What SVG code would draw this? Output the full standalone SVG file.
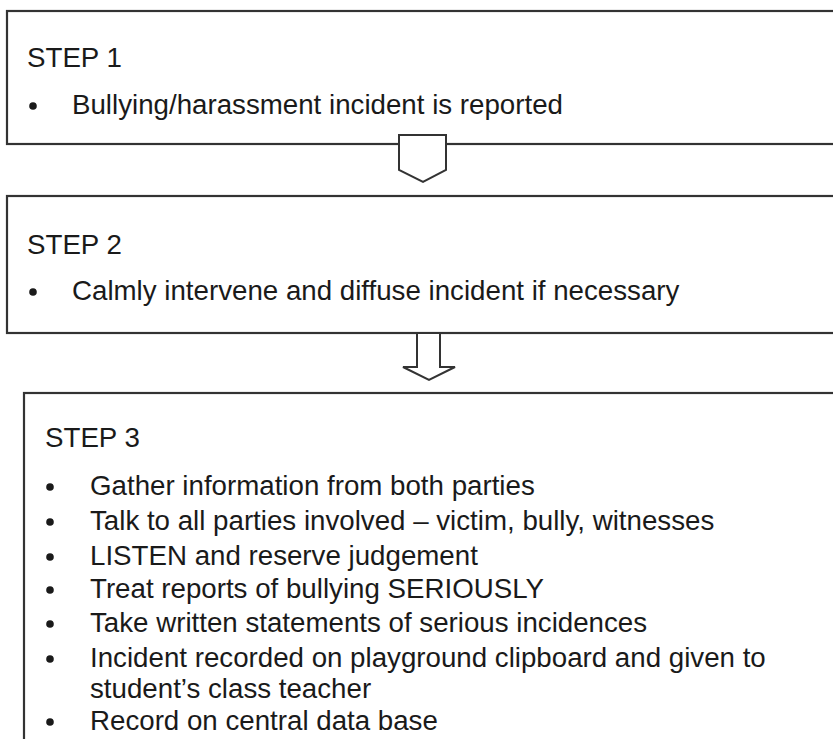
<svg xmlns="http://www.w3.org/2000/svg" width="833" height="739" viewBox="0 0 833 739">
<style>
.box{fill:#fff;stroke:#333;stroke-width:2.2}
.arrow{fill:#fff;stroke:#333;stroke-width:2;stroke-linejoin:miter}
text{font-family:"Liberation Sans",Arial,sans-serif;font-size:27.7px;fill:#1a1a1a}
.dot{fill:#1a1a1a}
</style>
<rect width="833" height="739" fill="#fff"/>
<g id="step1">
<rect class="box" x="7" y="11" width="840" height="133"/>
<text x="27" y="67">STEP 1</text>
<circle class="dot" cx="33" cy="106" r="3.8"/>
<text x="72" y="114">Bullying/harassment incident is reported</text>
</g>
<g id="step2">
<rect class="box" x="7" y="196" width="840" height="137"/>
<text x="27" y="254">STEP 2</text>
<circle class="dot" cx="33" cy="292" r="3.8"/>
<text x="72" y="300">Calmly intervene and diffuse incident if necessary</text>
</g>
<g id="step3">
<rect class="box" x="24" y="393" width="830" height="360"/>
<text x="45" y="447">STEP 3</text>
<g>
<circle class="dot" cx="50" cy="487" r="3.8"/>
<text x="90" y="495">Gather information from both parties</text>
<circle class="dot" cx="50" cy="522" r="3.8"/>
<text x="90" y="530">Talk to all parties involved – victim, bully, witnesses</text>
<circle class="dot" cx="50" cy="557" r="3.8"/>
<text x="90" y="565">LISTEN and reserve judgement</text>
<circle class="dot" cx="50" cy="590" r="3.8"/>
<text x="90" y="598">Treat reports of bullying SERIOUSLY</text>
<circle class="dot" cx="50" cy="624" r="3.8"/>
<text x="90" y="632">Take written statements of serious incidences</text>
<circle class="dot" cx="50" cy="659" r="3.8"/>
<text x="90" y="667">Incident recorded on playground clipboard and given to</text>
<text x="90" y="698">student’s class teacher</text>
<circle class="dot" cx="50" cy="722" r="3.8"/>
<text x="90" y="730">Record on central data base</text>
</g>
</g>
<g id="connectors">
<polygon class="arrow" points="399,135 446,135 446,170 423,182 399,170"/>
<polygon class="arrow" points="417,333 440,333 440,367 455,367 429,380 403,367 417,367"/>
</g>
</svg>
